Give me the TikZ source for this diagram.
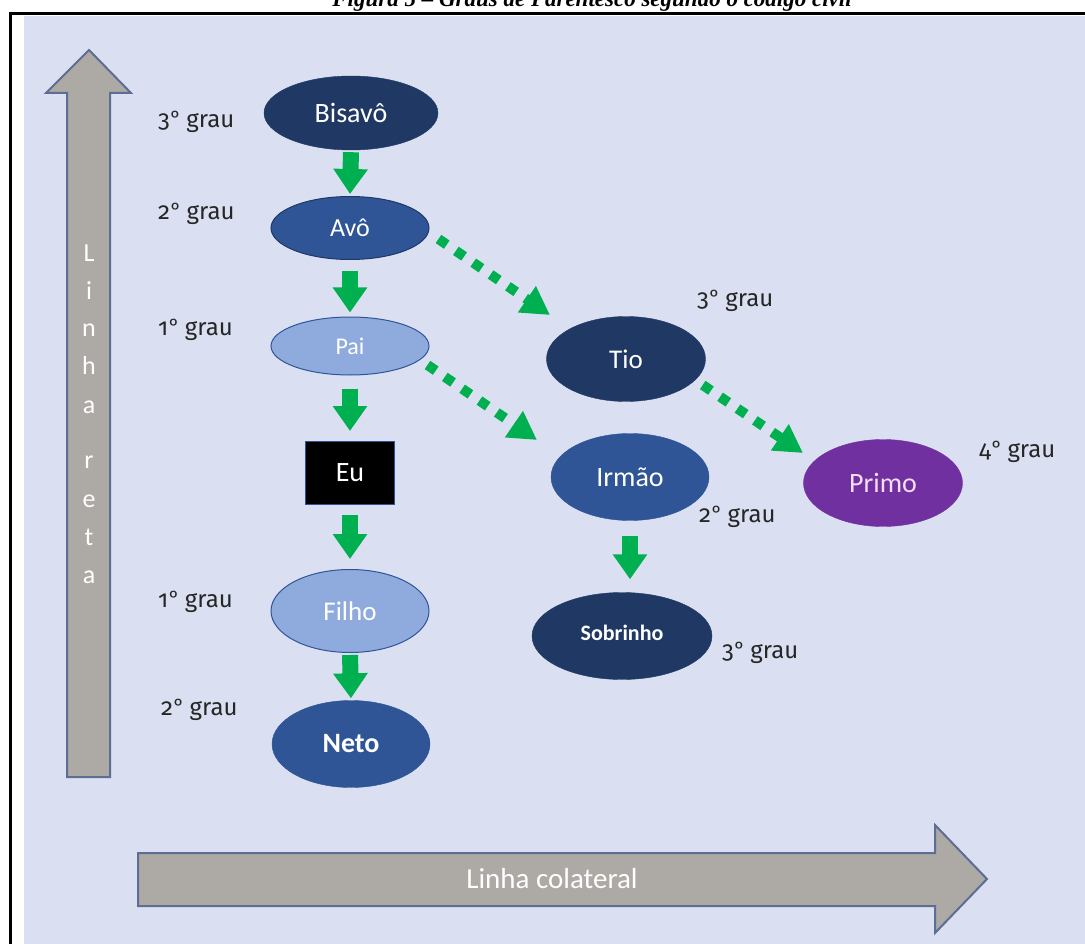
\documentclass[tikz,border=0pt]{standalone}
\usepackage{fontspec}
\setmainfont{Carlito}
\newfontfamily\labelfont{Fira Sans}[Numbers=OldStyle]
\newfontfamily\ordfont{Carlito}
\newfontfamily\titlefont{Liberation Serif}
\newcommand{\ordo}{{\ordfont º}}
\usetikzlibrary{arrows.meta,calc,shapes.geometric}
\definecolor{bgc}{HTML}{DAE0F2}
\definecolor{navy}{HTML}{1F3864}
\definecolor{midblue}{HTML}{2F5597}
\definecolor{lightblue}{HTML}{8FAADC}
\definecolor{purp}{HTML}{7030A0}
\definecolor{agreen}{HTML}{00B050}
\definecolor{greyfill}{HTML}{ADA9A5}
\definecolor{greyline}{HTML}{5D6D94}
\definecolor{labelc}{HTML}{262626}
\definecolor{pinkish}{HTML}{F6DDF6}
\tikzset{
  pers/.style={ellipse, inner sep=0pt, text=white, font=\fontsize{27}{30}\selectfont},
  grau/.style={anchor=base west, inner sep=0pt, text=labelc, font=\labelfont\fontsize{24}{30}\selectfont},
  garrow/.style={draw=agreen, line width=16pt, -{Triangle[width=33pt,length=25pt]}},
  gdash/.style={draw=agreen, line width=10pt, dash pattern=on 10pt off 11pt, -{Triangle[width=30pt,length=28pt]}},
  bigarrow/.style={fill=greyfill, draw=greyline, line width=2pt, line join=miter},
  vletter/.style={anchor=base, inner sep=0pt, text=white, font=\fontsize{26}{30}\selectfont},
}
\begin{document}
\begin{tikzpicture}[x=1pt,y=-1pt]
\useasboundingbox (0,0) rectangle (1085,944);
\fill[white] (0,0) rectangle (1085,944);
% title (top half cut off, as in the reference)
\node[anchor=base, inner sep=0pt, font=\titlefont\bfseries\itshape\fontsize{23}{26}\selectfont] (title) at (592,7) {Figura 5 – Graus de Parentesco segundo o código civil};
% frame
\fill[bgc] (24,16) rectangle (1085,944);
\draw[black, line width=3pt] (1085,13.5) -- (10.5,13.5) -- (10.5,944);
% big grey arrows
\draw[bigarrow] (67,777) -- (67,93) -- (46,93) -- (89,50) -- (131,93) -- (110,93) -- (110,777) -- cycle;
\draw[bigarrow] (138,853) -- (935,853) -- (935,825) -- (987,879) -- (935,933) -- (935,906) -- (138,906) -- cycle;
\node[anchor=center, inner sep=0pt, text=white, font=\fontsize{29}{30}\selectfont] (colat) at (552,879) {Linha colateral};
\foreach \ch/\yy [count=\n] in {L/262,i/299,n/337,h/374,a/413,r/468,e/507,t/545,a/583}{
  \node[vletter] (lr\n) at (89,\yy) {\ch};
}
% persons
\node[pers, fill=navy, draw=navy, minimum width=174pt, minimum height=74pt, font=\fontsize{28}{30}\selectfont] (bis) at (351,113) {Bisavô};
\node[pers, fill=midblue, draw=navy, line width=1pt, minimum width=158pt, minimum height=63pt, font=\fontsize{26}{28}\selectfont] (avo) at (350,228) {Avô};
\node[pers, fill=lightblue, draw=midblue, line width=1pt, minimum width=158pt, minimum height=58pt, font=\fontsize{24}{28}\selectfont] (pai) at (350,346) {Pai};
\node[rectangle, fill=black, draw=midblue, line width=1pt, inner sep=0pt, text=white, minimum width=89pt, minimum height=63pt, font=\fontsize{28}{30}\selectfont] (eu) at (350,473) {Eu};
\node[pers, fill=lightblue, draw=midblue, line width=1pt, minimum width=158pt, minimum height=83pt, font=\fontsize{27}{30}\selectfont] (filho) at (350,611) {Filho};
\node[pers, fill=midblue, draw=midblue, minimum width=158pt, minimum height=87pt, font=\bfseries\fontsize{28}{30}\selectfont] (neto) at (351,744) {Neto};
\node[pers, fill=navy, draw=navy, minimum width=159pt, minimum height=85pt] (tio) at (626,359) {Tio};
\node[pers, fill=midblue, draw=midblue, minimum width=158pt, minimum height=87pt, font=\fontsize{28}{30}\selectfont] (irmao) at (630,477) {Irmão};
\node[pers, fill=purp, draw=purp, text=pinkish, minimum width=159pt, minimum height=87pt, font=\fontsize{28}{30}\selectfont] (primo) at (883,483) {Primo};
\node[pers, fill=navy, draw=navy, minimum width=180pt, minimum height=87pt, font=\bfseries\fontsize{22}{26}\selectfont] (sob) at (622,636) {\raisebox{6pt}{Sobrinho}};
% degree labels
\node[grau] (g1) at (158,128) {3\ordo{} grau};
\node[grau] (g2) at (158,220) {2\ordo{} grau};
\node[grau] (g3) at (158,335) {1\ordo{} grau};
\node[grau] (g4) at (158,607) {1\ordo{} grau};
\node[grau] (g5) at (161,715) {2\ordo{} grau};
\node[grau] (g6) at (697,307) {3\ordo{} grau};
\node[grau] (g7) at (699,522) {2\ordo{} grau};
\node[grau] (g8) at (979,457) {4\ordo{} grau};
\node[grau] (g9) at (722,658) {3\ordo{} grau};
% straight green arrows
\draw[garrow, shorten <=2pt, shorten >=2pt] (bis.south) -- (avo.north);
\draw[garrow, shorten <=11pt, shorten >=4pt] (avo.south) -- (pai.north);
\draw[garrow, shorten <=13pt, shorten >=10pt] (pai.south) -- (eu.north);
\draw[garrow, shorten <=10pt, shorten >=10pt] (eu.south) -- (filho.north);
\draw[garrow, shorten <=2pt, shorten >=2pt] (filho.south) -- (neto.north);
\draw[garrow, shorten <=15pt, shorten >=13pt] (irmao.south) -- (irmao.south |- sob.north);
% dashed green arrows
\draw[gdash] ($(avo.east)+(9,11)$) -- ($(tio.center)+(-76,-44)$);
\draw[gdash] ($(pai.east)+(-2,19)$) -- ($(irmao.center)+(-93,-37)$);
\draw[gdash] ($(tio.east)+(-3,26)$) -- ($(primo.center)+(-80,-30)$);
\end{tikzpicture}
\end{document}
